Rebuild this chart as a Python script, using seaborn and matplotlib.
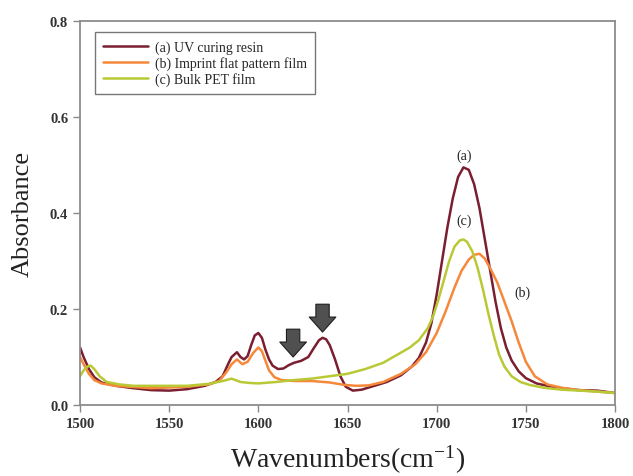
import matplotlib
matplotlib.use("Agg")
import matplotlib.pyplot as plt
import seaborn as sns
import pandas as pd

# ---- data ----
labels = ["(a) UV curing resin", "(b) Imprint flat pattern film", "(c) Bulk PET film"]

wn_a = [1500, 1502, 1505, 1508, 1512, 1520, 1530, 1540, 1550, 1560, 1570, 1576, 1580, 1583, 1585,
        1588, 1590, 1592, 1594, 1596, 1598, 1600, 1602, 1604, 1606, 1608, 1611, 1614, 1617, 1620,
        1624, 1628, 1631, 1634, 1636, 1638, 1640, 1643, 1646, 1649, 1653, 1658, 1665, 1672, 1680,
        1686, 1690, 1694, 1697, 1700, 1703, 1706, 1709, 1712, 1715, 1718, 1721, 1724, 1727, 1730,
        1733, 1736, 1739, 1742, 1746, 1750, 1756, 1762, 1770, 1780, 1790, 1800]
abs_a = [0.12, 0.10, 0.075, 0.058, 0.047, 0.04, 0.035, 0.031, 0.03, 0.033, 0.04, 0.048, 0.06, 0.085, 0.10,
         0.11, 0.10, 0.095, 0.102, 0.125, 0.145, 0.15, 0.14, 0.115, 0.095, 0.082, 0.075, 0.076, 0.083, 0.088,
         0.092, 0.10, 0.118, 0.135, 0.14, 0.137, 0.125, 0.095, 0.06, 0.038, 0.03, 0.032, 0.04, 0.048, 0.062,
         0.08, 0.098, 0.13, 0.17, 0.23, 0.30, 0.37, 0.43, 0.475, 0.495, 0.49, 0.46, 0.41, 0.345, 0.28,
         0.215, 0.16, 0.12, 0.093, 0.07, 0.056, 0.045, 0.04, 0.035, 0.031, 0.03, 0.025]

wn_b = [1500, 1502, 1505, 1508, 1512, 1520, 1540, 1560, 1572, 1578, 1582, 1585, 1588, 1591, 1594,
        1597, 1600, 1602, 1604, 1606, 1609, 1613, 1620, 1630, 1640, 1648, 1655, 1662, 1670, 1680,
        1688, 1694, 1700, 1705, 1710, 1714, 1718, 1721, 1724, 1727, 1730, 1734, 1738, 1742, 1746,
        1750, 1755, 1762, 1770, 1780, 1790, 1800]
abs_b = [0.10, 0.085, 0.065, 0.052, 0.045, 0.04, 0.035, 0.038, 0.043, 0.05, 0.068, 0.085, 0.095, 0.085, 0.09,
         0.108, 0.12, 0.112, 0.092, 0.072, 0.058, 0.052, 0.05, 0.05, 0.047, 0.042, 0.04, 0.041, 0.048, 0.065,
         0.085, 0.11, 0.15, 0.195, 0.245, 0.28, 0.303, 0.313, 0.315, 0.305, 0.285, 0.255, 0.215, 0.175, 0.13,
         0.09, 0.06, 0.043, 0.036, 0.031, 0.028, 0.025]

wn_c = [1500, 1502, 1504, 1506, 1508, 1511, 1515, 1522, 1530, 1545, 1560, 1572, 1580, 1585, 1590,
        1595, 1600, 1610, 1620, 1630, 1640, 1650, 1660, 1670, 1678, 1685, 1690, 1695, 1698, 1701,
        1704, 1707, 1710, 1713, 1715, 1717, 1720, 1723, 1726, 1729, 1732, 1735, 1738, 1742, 1747,
        1752, 1760, 1770, 1780, 1790, 1800]
abs_c = [0.06, 0.072, 0.08, 0.082, 0.075, 0.06, 0.048, 0.043, 0.04, 0.04, 0.04, 0.044, 0.05, 0.055, 0.048,
         0.046, 0.045, 0.048, 0.052, 0.055, 0.06, 0.065, 0.075, 0.088, 0.105, 0.12, 0.135, 0.16, 0.185, 0.22,
         0.26, 0.30, 0.33, 0.343, 0.345, 0.34, 0.32, 0.285, 0.24, 0.19, 0.145, 0.105, 0.08, 0.06, 0.048,
         0.042, 0.036, 0.032, 0.03, 0.028, 0.025]

peak_labels = ["(a)", "(c)", "(b)"]
peak_x = [1715.5, 1715.5, 1748]
peak_y = [0.52, 0.385, 0.235]

arrow_x = [1619.5, 1636]
arrow_tip = [0.100, 0.152]

x_ticks = [1500, 1550, 1600, 1650, 1700, 1750, 1800]
y_ticks = [0.0, 0.2, 0.4, 0.6, 0.8]

df = pd.concat([
    pd.DataFrame({"wn": wn_a, "abs": abs_a, "sample": labels[0]}),
    pd.DataFrame({"wn": wn_b, "abs": abs_b, "sample": labels[1]}),
    pd.DataFrame({"wn": wn_c, "abs": abs_c, "sample": labels[2]}),
])

sns.set_theme(style="white")
plt.rcParams["font.family"] = ["Liberation Serif", "DejaVu Serif"]
plt.rcParams["mathtext.fontset"] = "stix"

fig = plt.figure(figsize=(6.33, 4.77), dpi=100)
ax = fig.add_axes([0.1264, 0.1488, 0.8452, 0.8051])

palette = {labels[0]: "#7a1e30", labels[1]: "#f5883a", labels[2]: "#b9c935"}
sns.lineplot(data=df, x="wn", y="abs", hue="sample", palette=palette, ax=ax,
             linewidth=1.8, sort=True, estimator=None)

for t, xx, yy in zip(peak_labels, peak_x, peak_y):
    ax.text(xx, yy, t, fontsize=10, ha="center", va="center", color="#222222")

for xx, yy in zip(arrow_x, arrow_tip):
    ax.annotate("", xy=(xx, yy), xytext=(xx, yy + 0.058),
                arrowprops=dict(arrowstyle="simple,head_width=1.6,head_length=0.9,tail_width=0.8",
                                fc="#505050", ec="#1e1e1e", lw=0.8, shrinkA=0, shrinkB=0))

ax.set_xlim(1500, 1800)
ax.set_ylim(0, 0.8)
ax.set_xticks(x_ticks)
ax.set_yticks(y_ticks)
ax.set_yticklabels([f"{v:.1f}" for v in y_ticks])
ax.tick_params(axis="both", which="major", direction="out", length=5, width=1,
               color="#888888", labelsize=10.5, labelcolor="#333333", bottom=True, left=True)
for lab in ax.get_xticklabels() + ax.get_yticklabels():
    lab.set_fontweight("bold")
for s in ax.spines.values():
    s.set_color("#8c8c8c")
    s.set_linewidth(1.3)

ax.set_xlabel("Wavenumbers(cm$^{\\mathregular{-1}}$)", fontsize=20, color="#222222", labelpad=9)
ax.set_ylabel("Absorbance", fontsize=19, color="#222222", labelpad=12)

leg = ax.legend(loc="upper left", bbox_to_anchor=(0.015, 0.99), fontsize=10, frameon=True,
                fancybox=False, edgecolor="#555555", handlelength=3.2, borderpad=0.6,
                labelspacing=0.15, handletextpad=0.5)
leg.get_frame().set_linewidth(1.0)
leg.set_title(None)

fig.savefig("out.png", dpi=100)
